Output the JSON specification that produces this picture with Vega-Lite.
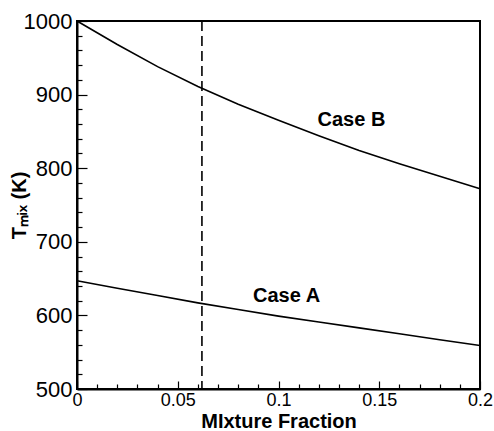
{
  "$schema": "https://vega.github.io/schema/vega-lite/v6.json",
  "width": 403,
  "height": 368,
  "autosize": {"type": "none"},
  "padding": {"left": 77, "top": 21, "right": 14, "bottom": 42},
  "background": "white",
  "config": {
    "font": "Liberation Sans",
    "view": {"stroke": "black", "strokeWidth": 2},
    "axis": {"domainColor": "black", "domainWidth": 2, "tickColor": "black", "labelColor": "black", "titleColor": "black", "grid": false, "labelFont": "Liberation Sans", "titleFont": "Liberation Sans"}
  },
  "datasets": {
    "curves": [
      {"x": 0.00, "T": 1000, "series": "Case B"},
      {"x": 0.02, "T": 968, "series": "Case B"},
      {"x": 0.04, "T": 938, "series": "Case B"},
      {"x": 0.06, "T": 911, "series": "Case B"},
      {"x": 0.08, "T": 887, "series": "Case B"},
      {"x": 0.10, "T": 865, "series": "Case B"},
      {"x": 0.12, "T": 844, "series": "Case B"},
      {"x": 0.14, "T": 824, "series": "Case B"},
      {"x": 0.16, "T": 806, "series": "Case B"},
      {"x": 0.18, "T": 789, "series": "Case B"},
      {"x": 0.20, "T": 772, "series": "Case B"},
      {"x": 0.00, "T": 647, "series": "Case A"},
      {"x": 0.02, "T": 637, "series": "Case A"},
      {"x": 0.04, "T": 627, "series": "Case A"},
      {"x": 0.06, "T": 617, "series": "Case A"},
      {"x": 0.08, "T": 608, "series": "Case A"},
      {"x": 0.10, "T": 599, "series": "Case A"},
      {"x": 0.12, "T": 591, "series": "Case A"},
      {"x": 0.14, "T": 583, "series": "Case A"},
      {"x": 0.16, "T": 575, "series": "Case A"},
      {"x": 0.18, "T": 567, "series": "Case A"},
      {"x": 0.20, "T": 559, "series": "Case A"}
    ],
    "labels": [
      {"x": 0.1362, "T": 866, "label": "Case B"},
      {"x": 0.104, "T": 626, "label": "Case A"}
    ],
    "marker": [
      {"x": 0.062, "T": 750}
    ]
  },
  "resolve": {"axis": {"x": "independent", "y": "independent"}},
  "layer": [
    {
      "data": {"name": "curves"},
      "mark": {"type": "line", "color": "black", "strokeWidth": 1.6},
      "encoding": {
        "x": {
          "field": "x", "type": "quantitative",
          "scale": {"domain": [0, 0.2], "nice": false, "zero": false},
          "axis": {
            "orient": "bottom",
            "values": [0, 0.05, 0.1, 0.15, 0.2],
            "labelExpr": "datum.value == 0 ? '0' : format(datum.value, '.2~f')",
            "labelOverlap": false,
            "labelFlush": false,
            "labelFontSize": 18,
            "labelPadding": 10,
            "tickSize": -8,
            "tickWidth": 1.2,
            "title": "MIxture Fraction",
            "titleFontSize": 20,
            "titleFontWeight": "bold",
            "titlePadding": 2
          }
        },
        "y": {
          "field": "T", "type": "quantitative",
          "scale": {"domain": [500, 1000], "nice": false, "zero": false},
          "axis": {
            "orient": "left",
            "values": [500, 600, 700, 800, 900, 1000],
            "format": "d",
            "labelOverlap": false,
            "labelFlush": false,
            "labelFontSize": 22,
            "labelPadding": 15,
            "tickSize": -10,
            "tickWidth": 1.2,
            "title": "Tₘᵢₓ (K)",
            "titleFontSize": 20,
            "titleFontWeight": "bold",
            "titleAngle": -90,
            "titleX": -52,
            "titleBaseline": "alphabetic"
          }
        },
        "detail": {"field": "series"}
      }
    },
    {
      "data": {"name": "marker"},
      "mark": {"type": "rule", "color": "black", "strokeWidth": 1.6, "strokeDash": [10, 5]},
      "encoding": {
        "x": {
          "field": "x", "type": "quantitative",
          "axis": {
            "orient": "bottom",
            "values": [0.01, 0.02, 0.03, 0.04, 0.06, 0.07, 0.08, 0.09, 0.11, 0.12, 0.13, 0.14, 0.16, 0.17, 0.18, 0.19],
            "labels": false,
            "domain": false,
            "title": null,
            "tickSize": -5,
            "tickWidth": 1.2
          }
        }
      }
    },
    {
      "data": {"name": "labels"},
      "mark": {"type": "text", "fontSize": 20, "fontWeight": "bold", "color": "black", "font": "Liberation Sans"},
      "encoding": {
        "x": {"field": "x", "type": "quantitative", "axis": null},
        "y": {
          "field": "T", "type": "quantitative",
          "axis": {
            "orient": "left",
            "values": [520, 540, 560, 580, 620, 640, 660, 680, 720, 740, 760, 780, 820, 840, 860, 880, 920, 940, 960, 980],
            "labels": false,
            "domain": false,
            "title": null,
            "tickSize": -5,
            "tickWidth": 1.2
          }
        },
        "text": {"field": "label"}
      }
    }
  ]
}
